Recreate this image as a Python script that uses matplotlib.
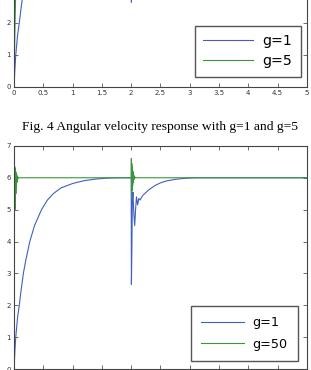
import numpy as np
import matplotlib
matplotlib.use('Agg')
import matplotlib.pyplot as plt

# Du lieu doc tu hinh: dap ung van toc goc
# g=1 (giong nhau o ca hai do thi)
t_g1 = [0, 0.015, 0.03, 0.06, 0.09, 0.12, 0.16, 0.2, 0.27, 0.35, 0.47, 0.57, 0.67,
        0.8, 1.0, 1.2, 1.4, 1.6, 1.8, 2.0,
        2.004, 2.012, 2.02, 2.03, 2.045, 2.06, 2.075, 2.09, 2.11, 2.13, 2.15,
        2.2, 2.3, 2.4, 2.5, 2.6, 2.75, 2.9, 3.1, 3.4, 5.0]
y_g1 = [0, 0.55, 1.0, 1.6, 2.0, 2.45, 3.0, 3.4, 4.0, 4.5, 5.0, 5.3, 5.5,
        5.68, 5.82, 5.91, 5.96, 5.99, 6.0, 6.0,
        2.65, 3.8, 5.3, 5.55, 4.9, 4.5, 5.0, 5.4, 5.15, 5.35, 5.3,
        5.45, 5.62, 5.75, 5.84, 5.9, 5.95, 5.98, 6.0, 6.0, 6.0]

# g=5 (do thi tren)
t_g5 = [0, 0.01, 0.02, 0.03, 0.045, 0.06, 0.1, 0.15, 0.2, 0.3, 0.4, 0.6,
        2.0, 2.01, 2.03, 2.06, 2.1, 2.2, 2.4, 5.0]
y_g5 = [0, 1.2, 2.2, 3.0, 4.3, 5.3, 6.1, 6.2, 6.05, 6.0, 6.0, 6.0,
        6.0, 4.6, 5.4, 6.2, 5.9, 6.0, 6.0, 6.0]

# g=50 (do thi duoi)
t_g50 = [0, 0.008, 0.012, 0.016, 0.02, 0.024, 0.028, 0.032, 0.036, 0.04, 0.045,
         0.05, 0.055, 0.06, 0.07, 0.08, 0.1, 2.0,
         2.003, 2.007, 2.011, 2.015, 2.02, 2.025, 2.03, 2.036, 2.042, 2.05,
         2.06, 2.07, 5.0]
y_g50 = [0, 4.9, 6.35, 5.0, 6.3, 5.3, 6.2, 5.5, 6.15, 5.7, 6.1,
         5.85, 6.05, 5.95, 6.02, 6.0, 6.0, 6.0,
         6.6, 5.4, 6.45, 5.6, 6.3, 5.75, 6.2, 5.85, 6.1, 5.95,
         6.03, 6.0, 6.0]

x_ticks = [0, 0.5, 1, 1.5, 2, 2.5, 3, 3.5, 4, 4.5, 5]
x_labels = ['0', '0.5', '1', '1.5', '2', '2.5', '3', '3.5', '4', '4.5', '5']
y_ticks = [0, 1, 2, 3, 4, 5, 6, 7]

caption = 'Fig. 4 Angular velocity response with g=1 and g=5'
blue = '#4060c0'
green = '#3a963a'


def style_axes(ax, xlabels, ylabels):
    ax.set_xlim(0, 5)
    ax.set_ylim(0, 7)
    ax.set_xticks(x_ticks)
    ax.set_xticklabels(xlabels)
    ax.set_yticks(y_ticks)
    ax.set_yticklabels(ylabels)
    ax.tick_params(direction='in', length=3, width=0.5, labelsize=5, pad=2,
                   top=True, right=True, colors='#333333')
    for s in ax.spines.values():
        s.set_linewidth(0.8)
        s.set_color('#444444')


fig = plt.figure(figsize=(3.11, 3.70), dpi=100)

# Do thi tren (bi cat phan tren)
ax1 = fig.add_axes([0.045, 0.765, 0.942, 0.605])
ax1.plot(t_g1, y_g1, color=blue, lw=0.8, label='g=1')
ax1.plot(t_g5, y_g5, color=green, lw=0.8, label='g=5')
# chi hien nhan truc y 0..2 (phan con lai nam ngoai khung hinh)
style_axes(ax1, x_labels, ['0', '1', '2', '', '', '', '', ''])
ax1.legend(loc='lower right', bbox_to_anchor=(0.98, 0.045), fontsize=10.2,
           handlelength=3.5, handletextpad=0.7, borderpad=0.6, labelspacing=0.45,
           borderaxespad=0, fancybox=False, framealpha=1, edgecolor='#555555')

fig.text(0.516, 1 - 127 / 370, caption, ha='center', va='center',
         family='Liberation Serif', fontsize=9.7)

# Do thi duoi
ax2 = fig.add_axes([0.045, 0.0027, 0.942, 0.603])
ax2.plot(t_g1, y_g1, color=blue, lw=0.8, label='g=1')
ax2.plot(t_g50, y_g50, color=green, lw=0.8, label='g=50')
style_axes(ax2, [''] * len(x_ticks), [str(v) for v in y_ticks])
ax2.legend(loc='lower right', bbox_to_anchor=(0.969, 0.036), fontsize=9.2,
           handlelength=3.3, handletextpad=0.7, borderpad=0.8, labelspacing=0.65,
           borderaxespad=0, fancybox=False, framealpha=1, edgecolor='#555555')

fig.savefig('out.png', dpi=100)
